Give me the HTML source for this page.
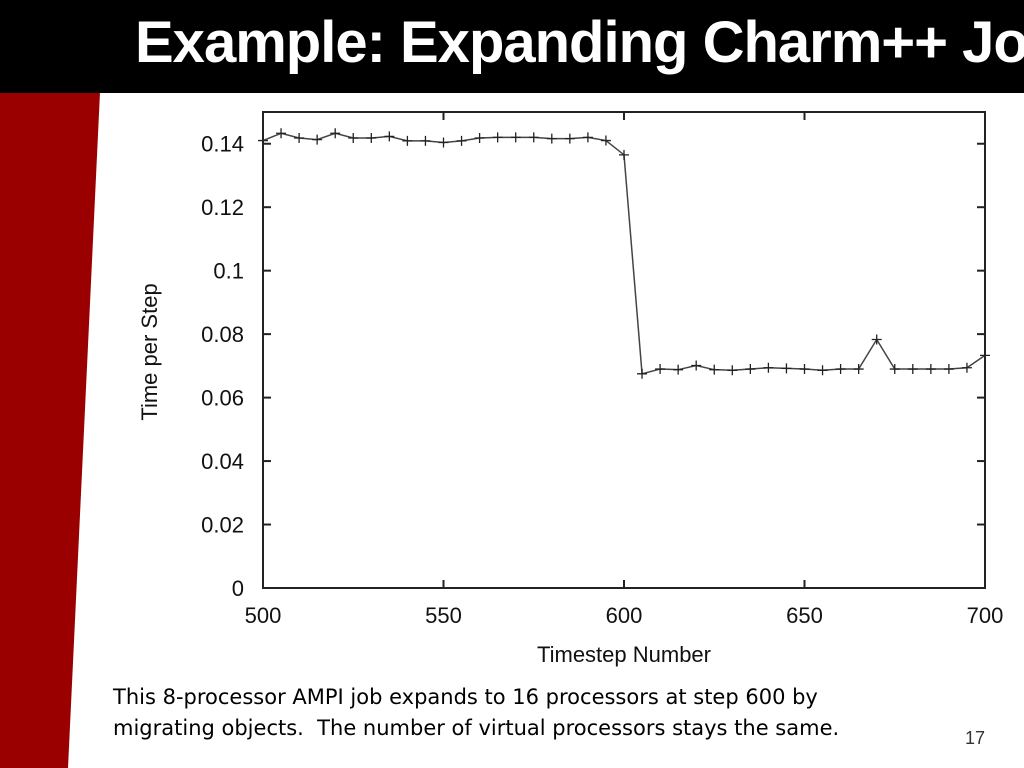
<!DOCTYPE html>
<html><head><meta charset="utf-8"><style>
body{margin:0;width:1024px;height:768px;overflow:hidden;background:#fff;font-family:"Liberation Sans",sans-serif;position:relative}
#bar{position:absolute;left:0;top:0;width:1024px;height:93px;background:#000}
#title{position:absolute;left:135px;top:8px;width:840px;height:70px;color:#fff;font-weight:bold;font-size:58px;line-height:70px;white-space:nowrap;transform-origin:0 0;letter-spacing:-1px}
#cap{position:absolute;left:113px;top:682px;font-family:"DejaVu Sans",sans-serif;font-size:21px;line-height:31px;color:#000;white-space:nowrap}
#num{position:absolute;left:965px;top:728px;font-size:18px;color:#333}
</style></head><body>
<svg width="1024" height="768" style="position:absolute;left:0;top:0"><polygon points="0,50 102,50 68,768 0,768" fill="#9a0000"/></svg>
<div id="bar"></div>
<div id="title">Example: Expanding Charm++ Job</div>
<svg id="chart" width="1024" height="768" style="position:absolute;left:0;top:0"></svg>
<div id="cap">This 8-processor AMPI job expands to 16 processors at step 600 by<br>migrating objects.&nbsp; The number of virtual processors stays the same.</div>
<div id="num">17</div>
<script>
const steps=[500,505,510,515,520,525,530,535,540,545,550,555,560,565,570,575,580,585,590,595,600,605,610,615,620,625,630,635,640,645,650,655,660,665,670,675,680,685,690,695,700];
const times=[0.141,0.1433,0.1418,0.1413,0.1433,0.1418,0.1418,0.1423,0.1409,0.1409,0.1404,0.1409,0.1418,0.142,0.142,0.142,0.1416,0.1416,0.142,0.141,0.1365,0.0675,0.069,0.0688,0.0701,0.0688,0.0686,0.069,0.0694,0.0692,0.069,0.0686,0.069,0.069,0.0783,0.069,0.069,0.069,0.069,0.0694,0.0733];
const xTicks=[500,550,600,650,700];
const yTicks=[0,0.02,0.04,0.06,0.08,0.1,0.12,0.14];
const yLabels=["0","0.02","0.04","0.06","0.08","0.1","0.12","0.14"];
const L=263,R=985,T=112,B=588;
const xs=v=>L+(v-500)/200*(R-L);
const ys=v=>B-v/0.15*(B-T);
const svg=document.getElementById('chart');
const NS='http://www.w3.org/2000/svg';
function mk(t,a){const e=document.createElementNS(NS,t);for(const k in a)e.setAttribute(k,a[k]);svg.appendChild(e);return e;}
let f=mk('rect',{x:L,y:T,width:R-L,height:B-T,fill:'none',stroke:'#222','stroke-width':2});


xTicks.forEach(v=>{
 const x=xs(v);
 let t=mk('line',{x1:x,y1:B,x2:x,y2:B-8,stroke:'#222','stroke-width':2});
 
 
 let t2=mk('line',{x1:x,y1:T,x2:x,y2:T+8,stroke:'#222','stroke-width':2});
 
 
 let l=mk('text',{x:x,y:623,'text-anchor':'middle','font-size':22,fill:'#111'});l.textContent=v;
 
 
});
yTicks.forEach((v,i)=>{
 const y=ys(v);
 let t=mk('line',{x1:L,y1:y,x2:L+8,y2:y,stroke:'#222','stroke-width':2});
 
 
 let t2=mk('line',{x1:R,y1:y,x2:R-8,y2:y,stroke:'#222','stroke-width':2});
 
 
 let l=mk('text',{x:244,y:y+8,'text-anchor':'end','font-size':22,fill:'#111'});l.textContent=yLabels[i];
 
 
});
let xt=mk('text',{x:624,y:662,'text-anchor':'middle','font-size':22,fill:'#111'});xt.textContent='Timestep Number';


let yt=mk('text',{x:0,y:0,'text-anchor':'middle','font-size':22,fill:'#111',transform:'translate(157,352) rotate(-90)'});yt.textContent='Time per Step';


let ln=mk('polyline',{points:steps.map((s,i)=>xs(s)+','+ys(times[i])).join(' '),fill:'none',stroke:'#444','stroke-width':1.5});


steps.forEach((s,i)=>{
 const x=xs(s),y=ys(times[i]);
 let p=mk('path',{d:`M${x-5},${y}H${x+5}M${x},${y-5}V${y+5}`,stroke:'#222','stroke-width':1.3});
 
 
});
</script>
</body></html>
